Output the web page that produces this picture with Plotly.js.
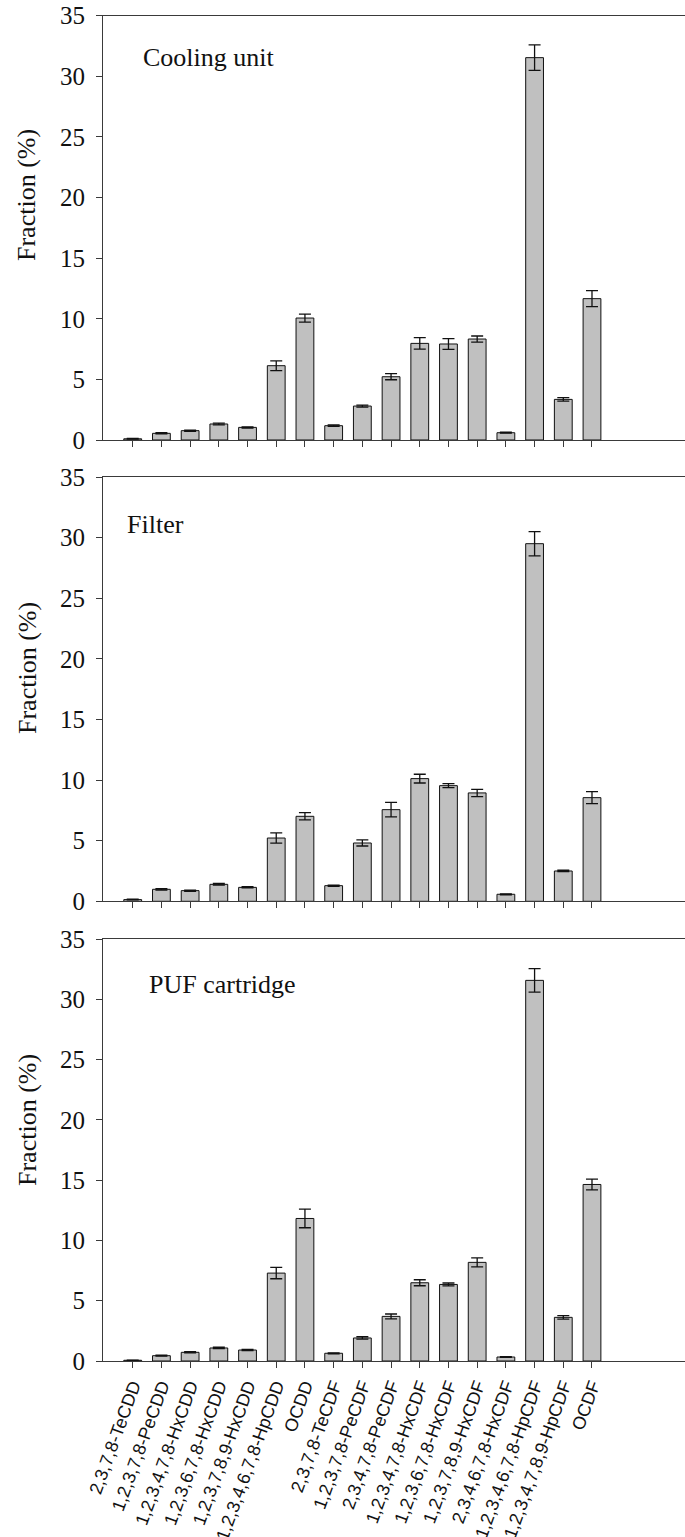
<!DOCTYPE html>
<html>
<head>
<meta charset="utf-8">
<script src="https://cdn.plot.ly/plotly-3.0.1.min.js"></script>
<style>html,body{margin:0;padding:0;background:#fff;}#chart{width:685px;height:1537px;}</style>
</head>
<body>
<div id="chart"></div>
<script>
const categories = ["2,3,7,8-TeCDD","1,2,3,7,8-PeCDD","1,2,3,4,7,8-HxCDD","1,2,3,6,7,8-HxCDD","1,2,3,7,8,9-HxCDD","1,2,3,4,6,7,8-HpCDD","OCDD","2,3,7,8-TeCDF","1,2,3,7,8-PeCDF","2,3,4,7,8-PeCDF","1,2,3,4,7,8-HxCDF","1,2,3,6,7,8-HxCDF","1,2,3,7,8,9-HxCDF","2,3,4,6,7,8-HxCDF","1,2,3,4,6,7,8-HpCDF","1,2,3,4,7,8,9-HpCDF","OCDF"];

const panelNames = ["Cooling unit", "Filter", "PUF cartridge"];

const coolingValues = [0.1, 0.55, 0.77, 1.32, 1.04, 6.13, 10.06, 1.18, 2.80, 5.22, 7.97, 7.92, 8.33, 0.60, 31.54, 3.35, 11.66];
const coolingErrors = [0.03, 0.05, 0.05, 0.07, 0.05, 0.40, 0.33, 0.06, 0.08, 0.25, 0.47, 0.45, 0.25, 0.04, 1.05, 0.14, 0.66];

const filterValues = [0.14, 0.99, 0.88, 1.40, 1.15, 5.22, 7.01, 1.29, 4.81, 7.56, 10.12, 9.54, 8.94, 0.58, 29.5, 2.50, 8.55];
const filterErrors = [0.03, 0.06, 0.05, 0.07, 0.05, 0.42, 0.30, 0.05, 0.25, 0.60, 0.36, 0.17, 0.30, 0.04, 1.00, 0.06, 0.50];

const pufValues = [0.06, 0.44, 0.72, 1.08, 0.91, 7.29, 11.82, 0.64, 1.91, 3.70, 6.49, 6.35, 8.18, 0.33, 31.57, 3.62, 14.64];
const pufErrors = [0.02, 0.04, 0.05, 0.06, 0.05, 0.47, 0.77, 0.04, 0.10, 0.20, 0.25, 0.12, 0.38, 0.03, 0.97, 0.15, 0.44];

const yTicks = [0, 5, 10, 15, 20, 25, 30, 35];

const W = 685, H = 1537, ML = 103, PW = W - ML;
const px = v => (v - ML) / PW;
const py = v => 1 - v / H;

const panels = [
  {vals: coolingValues, errs: coolingErrors, top: 15.7, bot: 440},
  {vals: filterValues, errs: filterErrors, top: 477, bot: 901.3},
  {vals: pufValues, errs: pufErrors, top: 939, bot: 1361}
];

const lineColor = '#3a3a3a';
const traces = [];
const layout = {
  width: W, height: H,
  margin: {l: ML, r: 0, t: 0, b: 0},
  paper_bgcolor: '#fff', plot_bgcolor: '#fff',
  showlegend: false,
  annotations: []
};

const namePos = [[140.5, 57], [125, 524], [147, 984]];
const titleY = [195, 668, 1120];

panels.forEach((p, i) => {
  const n = i + 1;
  const xa = n === 1 ? 'x' : 'x' + n;
  const ya = n === 1 ? 'y' : 'y' + n;
  traces.push({
    type: 'bar', x: categories, y: p.vals, xaxis: xa, yaxis: ya,
    width: 0.62,
    marker: {color: '#c0c0c0', line: {color: '#111', width: 1}},
    error_y: {type: 'data', array: p.errs, visible: true, color: '#111', thickness: 1.3, width: 6},
    hoverinfo: 'x+y'
  });
  const xKey = n === 1 ? 'xaxis' : 'xaxis' + n;
  const yKey = n === 1 ? 'yaxis' : 'yaxis' + n;
  layout[xKey] = {
    type: 'category', anchor: ya, range: [-1.035, 19.24],
    showline: true, linecolor: lineColor, linewidth: 1, mirror: true,
    ticks: 'outside', ticklen: 6, tickcolor: lineColor, tickwidth: 1,
    showgrid: false, zeroline: false,
    showticklabels: n === 3,
    tickangle: -70,
    automargin: false,
    tickfont: {family: 'Liberation Sans, Arial, sans-serif', size: 18, color: '#111'}
  };
  layout[yKey] = {
    domain: [1 - p.bot / H, 1 - p.top / H], anchor: xa,
    range: [0, 35], tickvals: yTicks,
    showline: true, linecolor: lineColor, linewidth: 1, mirror: false,
    ticks: 'outside', ticklen: 6, tickcolor: lineColor, tickwidth: 1,
    ticklabelstandoff: 6,
    showgrid: false, zeroline: false,
    automargin: false,
    tickfont: {family: 'Liberation Serif, Times New Roman, serif', size: 25, color: '#111'}
  };
  layout.annotations.push({
    xref: 'paper', yref: 'paper', x: px(namePos[i][0]), y: py(namePos[i][1]),
    xanchor: 'left', yanchor: 'middle', showarrow: false,
    text: panelNames[i],
    font: {family: 'Liberation Serif, Times New Roman, serif', size: 26, color: '#111'}
  });
  layout.annotations.push({
    xref: 'paper', yref: 'paper', x: px(27), y: py(titleY[i]),
    xanchor: 'center', yanchor: 'middle', showarrow: false, textangle: -90,
    text: 'Fraction (%)',
    font: {family: 'Liberation Serif, Times New Roman, serif', size: 26, color: '#111'}
  });
});

Plotly.newPlot('chart', traces, layout, {staticPlot: true, displayModeBar: false});
</script>
</body>
</html>
